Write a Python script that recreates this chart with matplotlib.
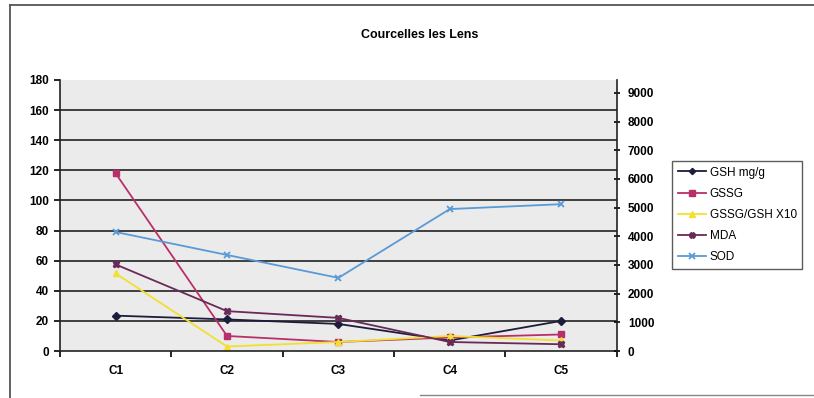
import matplotlib
matplotlib.use("Agg")
import matplotlib.pyplot as plt
from matplotlib.lines import Line2D

plt.rcParams['font.family'] = ['Liberation Sans', 'DejaVu Sans']

# Données par site
sites = ['C1', 'C2', 'C3', 'C4', 'C5']
gsh = [23.5, 21, 18, 7, 20]
gssg = [118, 10, 6, 9, 11]
gssg_gsh_x10 = [51.5, 3, 6, 10, 7]
mda = [57.5, 26.5, 22, 6, 4.5]
sod = [4150, 3350, 2550, 4950, 5120]

fig = plt.figure(figsize=(8.14, 3.98), dpi=100)
ax = fig.add_axes([0.0737, 0.118, 0.684, 0.681])
ax.set_facecolor('#ebebeb')

x = range(len(sites))
ax.plot(x, gsh, color='#1c1c3c', marker='D', ms=4, lw=1.3, label='GSH mg/g')
ax.plot(x, gssg, color='#b8306a', marker='s', ms=5, lw=1.3, label='GSSG')
ax.plot(x, gssg_gsh_x10, color='#f2e030', marker='^', ms=5, lw=1.3, label='GSSG/GSH X10')
ax.plot(x, mda, color='#6a2a58', marker='X', ms=5, lw=1.3, label='MDA')

ax2 = ax.twinx()
ax2.plot(x, sod, color='#5a9ad6', marker='x', ms=5, mew=1.3, lw=1.3, label='SOD')

ax.set_xlim(-0.5, 4.5)
ax.set_ylim(0, 180)
ax2.set_ylim(0, 9450)
ax.set_yticks(range(0, 181, 20))
ax2.set_yticks(range(0, 9001, 1000))
ax.set_xticks(list(x))
ax.set_xticklabels(sites)
ax.set_xticks([i + 0.5 for i in range(-1, 5)], minor=True)
ax.tick_params(axis='x', which='major', length=0, pad=10)
ax.tick_params(axis='x', which='minor', length=4, direction='out', width=1.2)
ax.tick_params(axis='y', length=4, width=1.2, direction='out', pad=4)
ax2.tick_params(axis='y', length=4, width=1.2, direction='inout', pad=6)

for a in (ax, ax2):
    for lab in a.get_xticklabels() + a.get_yticklabels():
        lab.set_fontsize(8.5)
        lab.set_fontweight('bold')

for v in range(20, 161, 20):
    ax.axhline(v, color='#222222', lw=1.2, zorder=0.5)

ax.spines['top'].set_visible(False)
ax.spines['right'].set_visible(False)
ax2.spines['top'].set_visible(False)
ax2.spines['left'].set_visible(False)
ax2.spines['bottom'].set_visible(False)
for s in (ax.spines['left'], ax.spines['bottom'], ax2.spines['right']):
    s.set_linewidth(1.2)
    s.set_color('#222222')

fig.text(0.516, 0.912, 'Courcelles les Lens', ha='center', va='center',
         fontsize=9, fontweight='bold')

handles = ax.get_lines() + ax2.get_lines()
handles = [h for h in handles if h.get_label() in ('GSH mg/g', 'GSSG', 'GSSG/GSH X10', 'MDA', 'SOD')]
leg = fig.legend(handles, [h.get_label() for h in handles],
                 loc='upper left', bbox_to_anchor=(0.826, 0.595),
                 fontsize=8.5, frameon=True, fancybox=False, edgecolor='#333333',
                 handlelength=2.4, handletextpad=0.3, borderpad=0.45,
                 labelspacing=0.78, borderaxespad=0, markerscale=0.8)
leg.get_frame().set_linewidth(1.0)

# cadre du graphique
fig.add_artist(Line2D([10 / 814, 1.0], [1 - 5 / 398, 1 - 5 / 398],
                      transform=fig.transFigure, color='#555555', lw=1.3))
fig.add_artist(Line2D([10 / 814, 10 / 814], [0.0, 1 - 5 / 398],
                      transform=fig.transFigure, color='#555555', lw=1.3))
fig.add_artist(Line2D([420 / 814, 1.0], [3 / 398, 3 / 398],
                      transform=fig.transFigure, color='#888888', lw=1.0))

fig.savefig('out.png', dpi=100)
